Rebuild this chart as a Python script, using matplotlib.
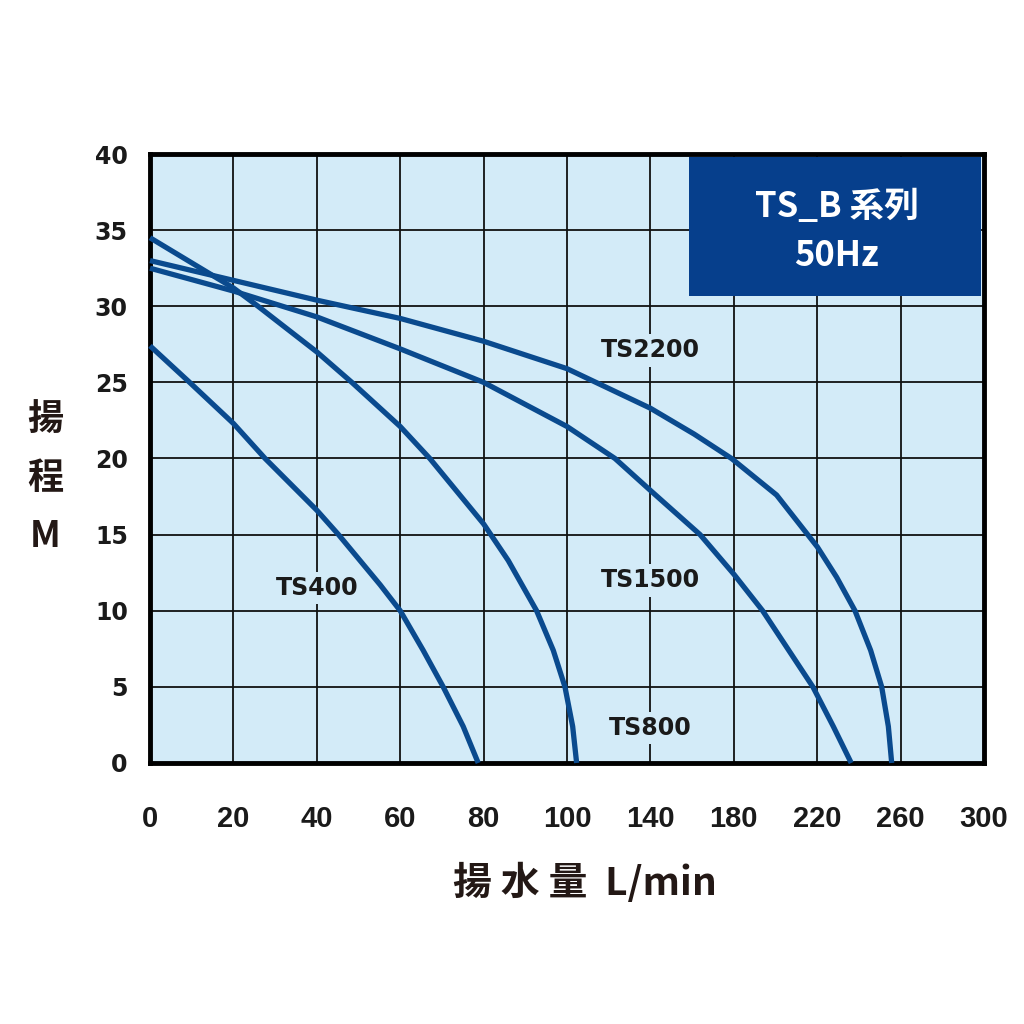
import matplotlib
matplotlib.use("Agg")
import matplotlib.pyplot as plt
import numpy as np
from matplotlib.patches import Rectangle

# flow (L/min) and head (M)
ts400_q = [0, 9.5, 20, 27.6, 40, 45.2, 55.2, 60, 65.5, 70.3, 75.1, 78.7]
ts400_h = [27.4, 25, 22.3, 20, 16.6, 15, 11.7, 10, 7.4, 5, 2.4, 0]

ts800_q = [0, 20, 25.9, 40, 48.4, 60, 67.1, 80, 85.9, 92.7, 96.7, 99.5, 102.7, 104.6]
ts800_h = [34.5, 31.2, 30, 27.0, 25, 22.1, 20, 15.7, 13.3, 10, 7.4, 5, 2.4, 0]

ts1500_q = [0, 20, 40, 60, 80, 100, 123, 140, 163.8, 180, 193.8, 217.9, 227.7, 236.3]
ts1500_h = [32.5, 31.0, 29.3, 27.2, 25.0, 22.1, 20, 17.9, 15, 12.4, 10, 5, 2.4, 0]

ts2200_q = [0, 20, 40, 60, 80, 100, 140, 161, 178.9, 200.5, 220, 229.3, 238.1, 245.6, 250.9, 254.1, 255.7]
ts2200_h = [33.0, 31.7, 30.4, 29.2, 27.7, 25.9, 23.3, 21.6, 20, 17.6, 14.2, 12.2, 10, 7.4, 5, 2.4, 0]

models = ["TS400", "TS800", "TS1500", "TS2200"]
label_pos = [(40, 11.5), (140, 2.3), (140, 12.0), (140, 27.1)]

x_ticks = [0, 20, 40, 60, 80, 100, 140, 180, 220, 260, 300]
y_ticks = [0, 5, 10, 15, 20, 25, 30, 35, 40]

BG = "#d3ebf8"
LINE = "#0a4a8e"
BOX = "#063f8c"
CJK = ["Noto Sans CJK JP", "DejaVu Sans"]


def fwd(x):
    x = np.asarray(x, dtype=float)
    return np.where(x <= 100, x / 20.0, 5 + (x - 100) / 40.0)


def inv(p):
    p = np.asarray(p, dtype=float)
    return np.where(p <= 5, p * 20.0, 100 + (p - 5) * 40.0)


def main():
    fig = plt.figure(figsize=(10.24, 10.24), dpi=100)
    ax = fig.add_axes([0.1465, 0.2549, 0.8145, 0.5947])
    ax.set_facecolor(BG)
    ax.set_xscale("function", functions=(fwd, inv))
    ax.set_xlim(0, 300)
    ax.set_ylim(0, 40)
    ax.set_xticks(x_ticks)
    ax.set_yticks(y_ticks)
    ax.set_xticklabels([str(t) for t in x_ticks], fontsize=21, fontweight="bold",
                       family=["Liberation Sans", "DejaVu Sans"])
    ax.set_yticklabels([str(t) for t in y_ticks], fontsize=17, fontweight="bold")
    ax.tick_params(axis="x", length=0, pad=30, colors="#1a1a1a")
    ax.tick_params(axis="y", length=0, pad=16, colors="#1a1a1a")
    ax.grid(True, color="#111111", linewidth=1.3)
    ax.set_axisbelow(True)
    for s in ax.spines.values():
        s.set_linewidth(3.5)
        s.set_color("black")

    series = [(ts400_q, ts400_h), (ts800_q, ts800_h), (ts1500_q, ts1500_h), (ts2200_q, ts2200_h)]
    for (q, h) in series:
        ax.plot(q, h, color=LINE, linewidth=3.8, solid_capstyle="butt",
                solid_joinstyle="round", zorder=3, clip_on=False)

    for name, (lx, ly) in zip(models, label_pos):
        ax.text(lx, ly, name, fontsize=17, fontweight="bold", color="#1a1a1a",
                ha="center", va="center", zorder=4,
                bbox=dict(facecolor=BG, edgecolor="none", pad=3))

    fig.patches.append(Rectangle((0.673, 0.7112), 0.285, 0.1354, transform=fig.transFigure,
                                 facecolor=BOX, edgecolor="none", zorder=5))
    fig.text(0.817, 0.798, "TS_B 系列", fontsize=25, fontweight="bold", color="white",
             ha="center", va="center", family=CJK, zorder=6)
    fig.text(0.817, 0.750, "50Hz", fontsize=25, fontweight="bold", color="white",
             ha="center", va="center", family=CJK, zorder=6)

    for ch, yy in zip(["揚", "程", "M"], [0.590, 0.533, 0.476]):
        fig.text(0.044, yy, ch, fontsize=26, fontweight="bold", color="#231815",
                 ha="center", va="center", family=CJK)
    fig.text(0.571, 0.138, "揚 水 量  L/min", fontsize=28, fontweight="bold", color="#231815",
             ha="center", va="center", family=CJK)

    fig.savefig("out.png", dpi=100, facecolor="white")


if __name__ == "__main__":
    main()
